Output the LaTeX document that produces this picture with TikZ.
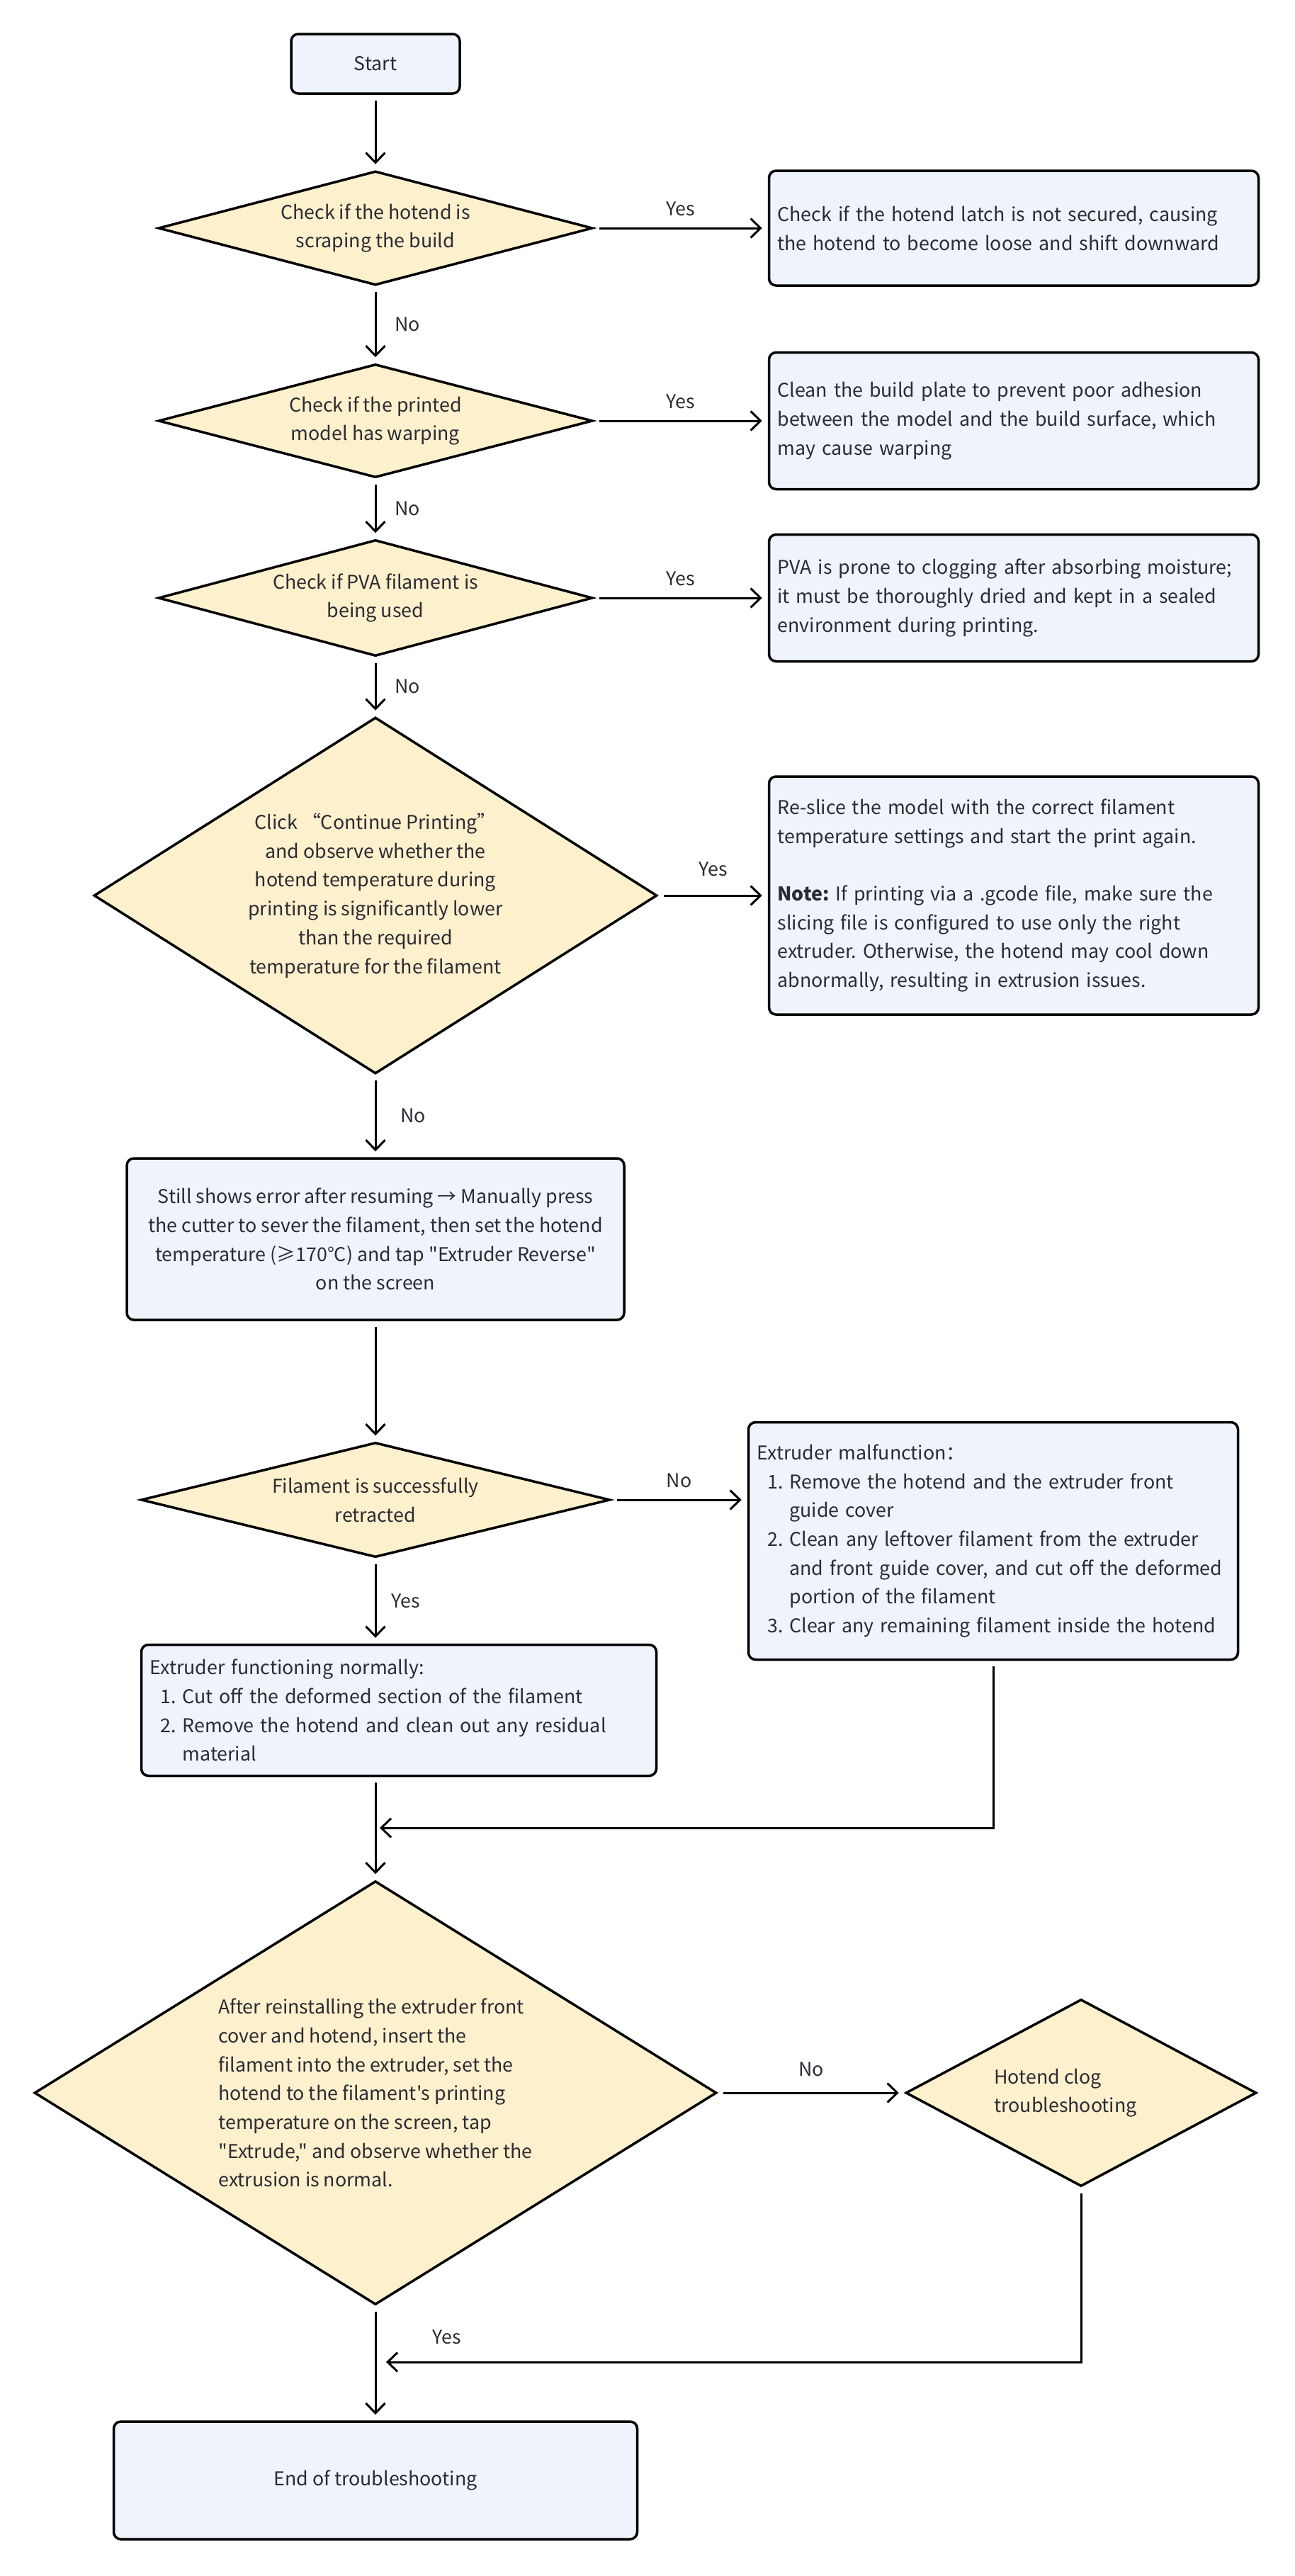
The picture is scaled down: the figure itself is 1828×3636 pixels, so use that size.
\documentclass[tikz,border=0pt]{standalone}
\usepackage{fontspec}
\setmainfont{Noto Sans CJK SC}[Ligatures=TeXOff]
\usetikzlibrary{shapes.geometric,arrows.meta}
\definecolor{boxfill}{HTML}{EFF3FC}
\definecolor{decfill}{HTML}{FDF0CD}
\definecolor{txt}{HTML}{2B2B33}
\newcommand{\itm}[1]{\hspace*{15pt}\makebox[31pt][l]{#1}}
\newcommand{\cnt}{\hspace*{46pt}}
\frenchspacing
\begin{document}
\begin{tikzpicture}[x=1pt,y=-1pt,
  every node/.style={font=\fontsize{26.8}{40.7}\selectfont, text=txt},
  box/.style={draw, line width=3.5pt, rounded corners=10pt, fill=boxfill, inner sep=12pt},
  dec/.style={diamond, draw, line width=3.5pt, fill=decfill, inner sep=0pt, align=center},
  arr/.style={-{Straight Barb[length=14pt,width=27pt,line width=3pt]}, line width=3pt, shorten <=8pt, shorten >=8pt},
  lbl/.style={inner sep=0pt}]
\useasboundingbox (0,0) rectangle (1828,3636);
\node[box, minimum width=238pt, minimum height=84pt] (start) at (530,90) {Start};
\node[dec, aspect=3.81, minimum width=613pt, minimum height=161pt] (chk1) at (530,322) {Check if the hotend is\\scraping the build};
\node[box, minimum width=691pt, minimum height=162pt, text width=667pt, align=left] (fix1) at (1431,322) {Check if the hotend latch is not secured, causing\\the hotend to become loose and shift downward};
\node[dec, aspect=3.83, minimum width=613pt, minimum height=160pt] (chk2) at (530,594) {Check if the printed\\model has warping};
\node[box, minimum width=691pt, minimum height=193pt, text width=667pt, align=left] (fix2) at (1431,594) {Clean the build plate to prevent poor adhesion\\between the model and the build surface, which\\may cause warping};
\node[dec, aspect=3.74, minimum width=613pt, minimum height=164pt] (chk3) at (530,844) {Check if PVA filament is\\being used};
\node[box, minimum width=691pt, minimum height=179pt, text width=667pt, align=left] (fix3) at (1431,844) {PVA is prone to clogging after absorbing moisture;\\it must be thoroughly dried and kept in a sealed\\environment during printing.};
\node[dec, aspect=1.58, minimum width=795pt, minimum height=503pt] (chk4) at (530,1264) {Click “Continue Printing”\\and observe whether the\\hotend temperature during\\printing is significantly lower\\than the required\\temperature for the filament};
\node[box, minimum width=691pt, minimum height=336pt, text width=667pt, align=left] (fix4) at (1431,1264) {Re-slice the model with the correct filament\\temperature settings and start the print again.\\[40.7pt]\textbf{Note:} If printing via a .gcode file, make sure the\\slicing file is configured to use only the right\\extruder. Otherwise, the hotend may cool down\\abnormally, resulting in extrusion issues.};
\node[box, minimum width=702pt, minimum height=228pt, align=center] (cut) at (530,1749) {Still shows error after resuming → Manually press\\the cutter to sever the filament, then set the hotend\\temperature (≥170°C) and tap "Extruder Reverse"\\on the screen};
\node[dec, aspect=4.09, minimum width=662pt, minimum height=162pt] (chk5) at (530,2117) {Filament is successfully\\retracted};
\node[box, minimum width=691pt, minimum height=335pt, text width=667pt, align=left] (bad) at (1402,2175) {Extruder malfunction：\\\itm{1.}Remove the hotend and the extruder front\\\cnt guide cover\\\itm{2.}Clean any leftover filament from the extruder\\\cnt and front guide cover, and cut off the deformed\\\cnt portion of the filament\\\itm{3.}Clear any remaining filament inside the hotend};
\node[box, minimum width=727pt, minimum height=185pt, text width=703pt, align=left] (good) at (563,2414) {Extruder functioning normally:\\\itm{1.}Cut off the deformed section of the filament\\\itm{2.}Remove the hotend and clean out any residual\\\cnt material};
\node[dec, aspect=1.61, minimum width=963pt, minimum height=598pt, align=left] (chk6) at (530,2954) {After reinstalling the extruder front\\cover and hotend, insert the\\filament into the extruder, set the\\hotend to the filament's printing\\temperature on the screen, tap\\"Extrude," and observe whether the\hspace*{20pt}\\extrusion is normal.};
\node[dec, aspect=1.875, minimum width=495pt, minimum height=264pt, align=left] (clog) at (1526,2954) {Hotend clog\\troubleshooting\hspace*{44pt}};
\node[box, minimum width=739pt, minimum height=166pt] (done) at (530,3501) {End of troubleshooting};
\coordinate (mrg1) at (536,2580);
\coordinate (mrg2) at (545,3334);
\draw[arr] (start) -- (chk1);
\draw[arr] (chk1) -- node[lbl, midway, above=16pt]{Yes} (fix1);
\draw[arr] (chk1) -- node[lbl, midway, right=26pt]{No} (chk2);
\draw[arr] (chk2) -- node[lbl, midway, above=16pt]{Yes} (fix2);
\draw[arr] (chk2) -- node[lbl, midway, right=26pt]{No} (chk3);
\draw[arr] (chk3) -- node[lbl, midway, above=16pt]{Yes} (fix3);
\draw[arr] (chk3) -- node[lbl, midway, right=26pt]{No} (chk4);
\draw[arr] (chk4) -- node[lbl, midway, above=26pt]{Yes} (fix4);
\draw[arr] (chk4) -- node[lbl, midway, right=34pt]{No} (cut);
\draw[arr] (cut) -- (chk5);
\draw[arr] (chk5.east) -- node[lbl, midway, above=16pt]{No} (bad.west |- chk5.east);
\draw[arr] (chk5) -- node[lbl, midway, right=21pt]{Yes} (chk5.south |- good.north);
\draw[arr, shorten >=0pt] (bad.south) |- (mrg1);
\draw[arr] (chk6.north |- good.south) -- (chk6.north);
\draw[arr] (chk6.east) -- node[lbl, midway, above=22pt]{No} (clog.west);
\draw[arr, shorten >=0pt] (clog.south) |- (mrg2);
\draw[arr] (chk6) -- node[lbl, pos=0.27, right=79pt]{Yes} (done);
\end{tikzpicture}
\end{document}
